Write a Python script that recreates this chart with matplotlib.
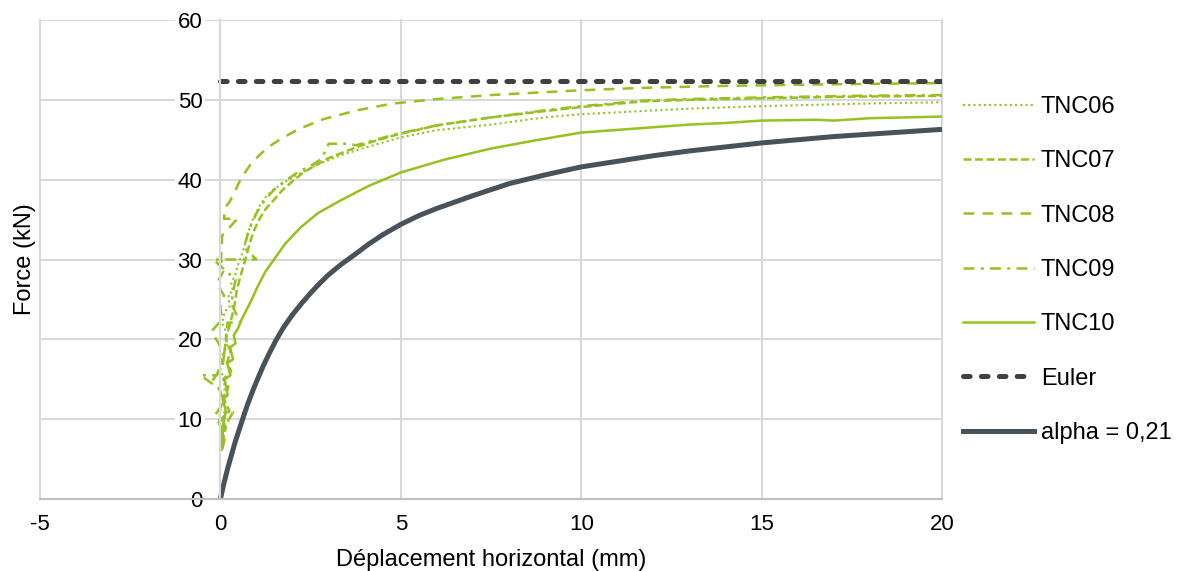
import matplotlib
matplotlib.use("Agg")
import matplotlib.pyplot as plt

plt.rcParams['font.family'] = ['Liberation Sans', 'DejaVu Sans']
plt.rcParams['axes.unicode_minus'] = False

# Essais TNC : deplacement horizontal (mm) / force (kN)
tnc06_x = [0.03, 0.08, -0.05, 0.02, 0.12, 0.10, -0.02, 0.05, 0.18, 0.15, 0.05, 0.12, 0.25,
           0.22, 0.35, 0.30, 0.42, 0.50, 0.60, 0.70, 0.78, 0.87, 0.97, 1.10, 1.25, 1.45,
           1.72, 2.08, 2.64, 3.30, 4.00, 5.00, 6.00, 7.50, 9.00, 10.0, 11.7, 13.0, 15.0,
           17.5, 20.0]
tnc06_f = [6.0, 8.0, 9.5, 12.0, 13.0, 15.0, 16.5, 18.0, 19.0, 21.0, 22.0, 23.5, 24.0,
           25.7, 26.0, 27.0, 28.2, 29.5, 30.7, 32.2, 33.6, 34.7, 35.7, 36.8, 37.8, 38.7,
           39.5, 40.5, 41.8, 43.0, 44.0, 45.3, 46.2, 46.9, 47.8, 48.2, 48.6, 48.9, 49.2,
           49.5, 49.7]

tnc07_x = [0.05, 0.15, 0.02, 0.25, 0.10, 0.22, 0.08, 0.30, 0.18, 0.28, 0.15, 0.30, 0.38,
           0.45, 0.52, 0.60, 0.70, 0.78, 0.90, 1.06, 1.25, 1.47, 1.70, 2.00, 2.30, 2.64,
           3.00, 3.50, 4.10, 4.86, 6.00, 7.50, 9.00, 10.0, 11.7, 13.0, 15.0, 17.5, 20.0]
tnc07_f = [7.0, 9.0, 10.0, 11.0, 12.5, 14.0, 15.0, 16.0, 17.0, 18.5, 20.0, 22.5, 24.0,
           26.0, 27.3, 28.6, 30.1, 31.5, 33.3, 34.9, 36.3, 37.4, 38.6, 39.8, 40.9, 41.8,
           42.7, 43.6, 44.6, 45.6, 46.8, 47.8, 48.6, 49.1, 49.8, 50.0, 50.2, 50.4, 50.5]

tnc08_x = [0.05, 0.12, 0.02, -0.15, 0.08, 0.00, -0.20, 0.06, 0.10, -0.05, -0.25, 0.05,
           0.00, 0.10, -0.10, 0.08, 0.02, 0.05, 0.47, 0.10, 0.12, 0.18, 0.25, 0.37, 0.50,
           0.65, 0.82, 1.02, 1.30, 1.67, 2.20, 2.87, 3.80, 4.72, 6.00, 7.50, 10.0, 11.7,
           14.0, 17.0, 20.0]
tnc08_f = [6.2, 7.5, 9.0, 10.5, 12.0, 13.5, 15.0, 16.5, 18.0, 19.5, 21.0, 22.5, 24.0,
           25.5, 27.0, 28.5, 30.0, 33.0, 35.1, 35.1, 36.2, 36.8, 37.2, 38.2, 39.5, 40.7,
           41.8, 42.8, 44.0, 45.1, 46.4, 47.6, 48.7, 49.5, 50.1, 50.6, 51.2, 51.5, 51.75,
           51.95, 52.1]

tnc09_x = [0.05, 0.12, 0.35, 0.10, 0.06, -0.55, -0.10, 0.10, 0.20, 0.55, 0.30, 0.42,
           -0.20, 1.00, 0.65, 0.80, 1.00, 1.15, 1.30, 1.50, 1.72, 2.10, 2.60, 2.80, 3.00,
           3.60, 3.75, 4.86, 6.00, 7.50, 9.00, 10.0, 11.7, 13.0, 15.0, 17.5, 20.0]
tnc09_f = [6.5, 9.0, 10.9, 10.9, 13.5, 15.5, 15.5, 18.0, 22.1, 22.1, 24.5, 27.5,
           30.0, 30.0, 31.5, 33.8, 35.8, 36.9, 37.8, 38.8, 39.6, 40.8, 42.0, 42.6, 44.5,
           44.5, 44.3, 45.7, 46.8, 47.8, 48.7, 49.2, 49.9, 50.1, 50.3, 50.5, 50.6]

tnc10_x = [0.02, 0.10, 0.03, 0.15, 0.07, 0.20, 0.12, 0.28, 0.19, 0.35, 0.27, 0.42, 0.37,
           0.50, 0.58, 0.70, 0.85, 1.02, 1.25, 1.47, 1.80, 2.22, 2.70, 3.33, 4.10, 5.00,
           6.20, 7.50, 8.70, 10.0, 11.5, 13.0, 14.0, 15.0, 16.5, 17.0, 18.0, 19.0, 20.0]
tnc10_f = [6.5, 9.5, 8.0, 11.0, 12.5, 13.0, 15.0, 15.5, 17.0, 17.5, 19.0, 19.5, 20.5,
           21.5, 22.4, 23.5, 24.8, 26.5, 28.5, 29.9, 32.0, 34.0, 35.8, 37.4, 39.2, 40.9,
           42.5, 43.9, 44.9, 45.9, 46.4, 46.9, 47.1, 47.4, 47.5, 47.4, 47.7, 47.8, 47.9]

# Charge critique d'Euler
euler_x = [0.0, 20.0]
euler_f = [52.3, 52.3]

# Courbe de flambement, alpha = 0,21
alpha_x = [0.0, 0.05, 0.1, 0.15, 0.2, 0.3, 0.4, 0.5, 0.63, 0.75, 0.9, 1.0, 1.2, 1.35,
           1.53, 1.75, 2.0, 2.25, 2.5, 2.75, 3.0, 3.35, 3.75, 4.1, 4.5, 5.0, 5.5, 6.0,
           6.5, 7.0, 8.0, 9.0, 10.0, 11.0, 12.0, 13.0, 14.0, 15.0, 16.0, 17.0, 18.0,
           19.0, 20.0]
alpha_f = [0.0, 1.0, 2.0, 2.9, 3.8, 5.4, 7.0, 8.4, 10.2, 11.8, 13.6, 14.7, 16.8, 18.2,
           19.8, 21.5, 23.1, 24.5, 25.8, 27.0, 28.1, 29.4, 30.7, 31.9, 33.1, 34.4, 35.5,
           36.4, 37.2, 38.0, 39.5, 40.6, 41.6, 42.3, 43.0, 43.6, 44.1, 44.6, 45.0, 45.4,
           45.7, 46.0, 46.3]

x_ticks = [-5, 0, 5, 10, 15, 20]
y_ticks = [0, 10, 20, 30, 40, 50, 60]

green = '#96C11F'
grid_col = '#D9D9D9'

fig = plt.figure(figsize=(11.78, 5.71), dpi=100)
ax = fig.add_axes([40 / 1178, 1 - 499 / 571, 902 / 1178, 479 / 571])

ax.plot(tnc06_x, tnc06_f, color=green, lw=1.5, dashes=(1, 1.5), label='TNC06')
ax.plot(tnc07_x, tnc07_f, color=green, lw=1.8, dashes=(3.2, 1.4), label='TNC07')
ax.plot(tnc08_x, tnc08_f, color=green, lw=1.8, dashes=(4.3, 3.3), label='TNC08')
ax.plot(tnc09_x, tnc09_f, color=green, lw=1.8, dashes=(4.4, 2.5, 1.2, 2.5), label='TNC09')
ax.plot(tnc10_x, tnc10_f, color=green, lw=1.8, label='TNC10')
ax.plot(euler_x, euler_f, color='#404040', lw=3.6, dashes=(1.33, 2.25),
        dash_capstyle='round', label='Euler')
ax.plot(alpha_x, alpha_f, color='#47525A', lw=3.6, label='alpha = 0,21')

ax.set_xlim(-5, 20)
ax.set_ylim(0, 60)
ax.set_xticks(x_ticks)
ax.set_yticks(y_ticks)
ax.set_axisbelow(True)
ax.grid(True, color=grid_col, lw=1.5)
for gl in ax.get_xgridlines() + ax.get_ygridlines():
    gl.set_clip_on(False)

# axe vertical en x = 0, comme dans Excel
ax.spines['left'].set_position(('data', 0))
ax.spines['left'].set_color(grid_col)
ax.spines['left'].set_linewidth(1.5)
ax.spines['top'].set_visible(False)
ax.spines['right'].set_visible(False)
ax.spines['bottom'].set_color('#BFBFBF')
ax.spines['bottom'].set_linewidth(1.5)

ax.tick_params(axis='both', length=0, labelsize=16, colors='black')
ax.tick_params(axis='x', pad=11)
ax.tick_params(axis='y', pad=13)
for lab in ax.get_yticklabels():
    lab.set_bbox(dict(boxstyle='square,pad=0.1', fc='white', ec='none'))

ax.set_xlabel('Déplacement horizontal (mm)', fontsize=17)
ax.set_ylabel('Force (kN)', fontsize=17)
ax.xaxis.set_label_coords(0.5, -0.104)
ax.yaxis.set_label_coords(-0.004, 0.5)

ax.legend(loc='center left', bbox_to_anchor=(963 / 1178, 1 - 270 / 571),
          bbox_transform=fig.transFigure, frameon=False, fontsize=17,
          handlelength=3.0, handletextpad=0.3, labelspacing=1.37,
          borderpad=0, borderaxespad=0)

fig.savefig('out.png', dpi=100)
